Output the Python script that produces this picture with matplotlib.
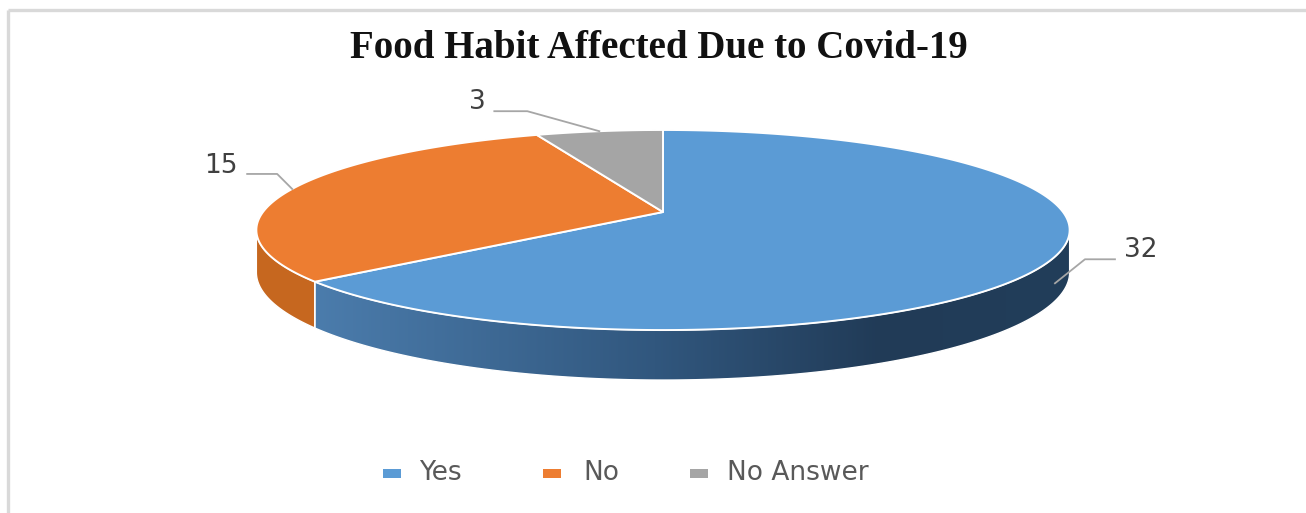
import numpy as np
import matplotlib
matplotlib.use("Agg")
import matplotlib.pyplot as plt
from matplotlib.patches import Polygon, Rectangle
from matplotlib.colors import LinearSegmentedColormap

# ---- data ----
categories = ["Yes", "No", "No Answer"]
counts = [32, 15, 3]
title = "Food Habit Affected Due to Covid-19"

# ---- styling ----
top_colors = ["#5B9BD5", "#ED7D31", "#A5A5A5"]
side_colors = ["#3E6C98", "#C6671F", "#7F7F7F"]
W, H = 1306, 513

fig = plt.figure(figsize=(W / 100, H / 100), dpi=100)
ax = fig.add_axes([0, 0, 1, 1])
ax.set_xlim(0, W)
ax.set_ylim(H, 0)
ax.axis("off")

# chart frame (left and top edges visible)
ax.plot([8, 8], [H + 20, 10], color="#D9D9D9", lw=2.4, solid_capstyle="butt", clip_on=True)
ax.plot([8, W + 20], [10, 10], color="#D9D9D9", lw=2.4, solid_capstyle="butt", clip_on=True)

# ---- perspective pie geometry ----
CX, CY = 663, 212
RX, RY = 400, 96.8
K = 0.18
DEPTH = 41


def project(theta_deg, r=1.0, h=0.0):
    t = np.radians(theta_deg)
    X = r * np.cos(t)
    Z = r * np.sin(t)
    w = 1 + K * Z
    return CX + RX * X / w, CY + (-RY * Z + DEPTH * h) / w


total = float(sum(counts))
spans = [360.0 * c / total for c in counts]
theta1s, theta2s = [], []
start = 90.0
for s in spans:
    theta1s.append(start)
    theta2s.append(start - s)
    start -= s

# visible wall interval (front half bounded by silhouette)
sil = np.degrees(np.arcsin(K))
vis_lo, vis_hi = -180 + sil, -sil

# ---- side walls ----
wall_cmap = LinearSegmentedColormap.from_list(
    "wall", [(0.0, "#4B7CAC"), (0.45, "#31577E"), (0.75, "#213B57"), (1.0, "#223E5A")])

for i, (t1, t2) in enumerate(zip(theta1s, theta2s)):
    for shift in (-360, 0, 360):
        lo = max(t2, vis_lo + shift)
        hi = min(t1, vis_hi + shift)
        if hi <= lo:
            continue
        th = np.linspace(lo, hi, 200)
        xt, yt = project(th, 1.0, 0.0)
        xb, yb = project(th[::-1], 1.0, 1.0)
        pts = np.column_stack([np.concatenate([xt, xb]), np.concatenate([yt, yb])])
        if i == 0:
            poly = Polygon(pts, closed=True, facecolor="none", edgecolor="white", lw=1.0, zorder=3)
            ax.add_patch(poly)
            x0, x1 = pts[:, 0].min(), pts[:, 0].max()
            y0, y1 = pts[:, 1].min(), pts[:, 1].max()
            grad = np.linspace(0, 1, 256)[None, :]
            im = ax.imshow(grad, cmap=wall_cmap, extent=[x0, x1, y1, y0],
                           aspect="auto", zorder=2, interpolation="bilinear")
            im.set_clip_path(poly)
        else:
            ax.add_patch(Polygon(pts, closed=True, facecolor=side_colors[i],
                                 edgecolor="white", lw=1.0, zorder=2))

# ---- top faces ----
for i, (t1, t2) in enumerate(zip(theta1s, theta2s)):
    th = np.linspace(t1, t2, 300)
    xs, ys = project(th)
    pts = np.column_stack([np.concatenate([[CX], xs]), np.concatenate([[CY], ys])])
    ax.add_patch(Polygon(pts, closed=True, facecolor=top_colors[i],
                         edgecolor="white", lw=1.4, zorder=4))

# ---- data labels with leader lines ----
leader_color = "#A6A6A6"
label_color = "#404040"
label_style = [
    # (depth fraction of anchor, elbow offset, horizontal run, text offset, ha)
    (0.6, (30, -24), 30, (9, -2), "left"),
    (0.0, (-15, -15), -30, (-10, -1), "right"),
    (0.0, (-72, -20), -33, (-9, -2), "right"),
]
for i, (t1, t2) in enumerate(zip(theta1s, theta2s)):
    mid = (t1 + t2) / 2
    depth_frac, elbow_off, run, txt_off, ha = label_style[i]
    ax0, ay0 = project(mid, 1.0, depth_frac)
    ex, ey = ax0 + elbow_off[0], ay0 + elbow_off[1]
    hx = ex + run
    ax.plot([ax0, ex, hx], [ay0, ey, ey], color=leader_color, lw=1.3, zorder=5)
    ax.text(hx + txt_off[0], ey + txt_off[1], str(counts[i]), ha=ha, va="baseline",
            fontsize=19, color=label_color, family="DejaVu Sans", zorder=6)

# ---- title ----
ax.text(659, 58, title, ha="center", va="baseline", fontsize=28,
        fontweight="bold", family="Liberation Serif", color="#111111")

# ---- legend ----
legend_marker_x = [383, 543, 690]
legend_text_x = [419, 583, 727]
for i, cat in enumerate(categories):
    ax.add_patch(Rectangle((legend_marker_x[i], 469), 18, 9, facecolor=top_colors[i],
                           edgecolor="none", zorder=5))
    ax.text(legend_text_x[i], 480, cat, ha="left", va="baseline", fontsize=19,
            color="#595959", family="DejaVu Sans")

fig.savefig("out.png", dpi=100)
